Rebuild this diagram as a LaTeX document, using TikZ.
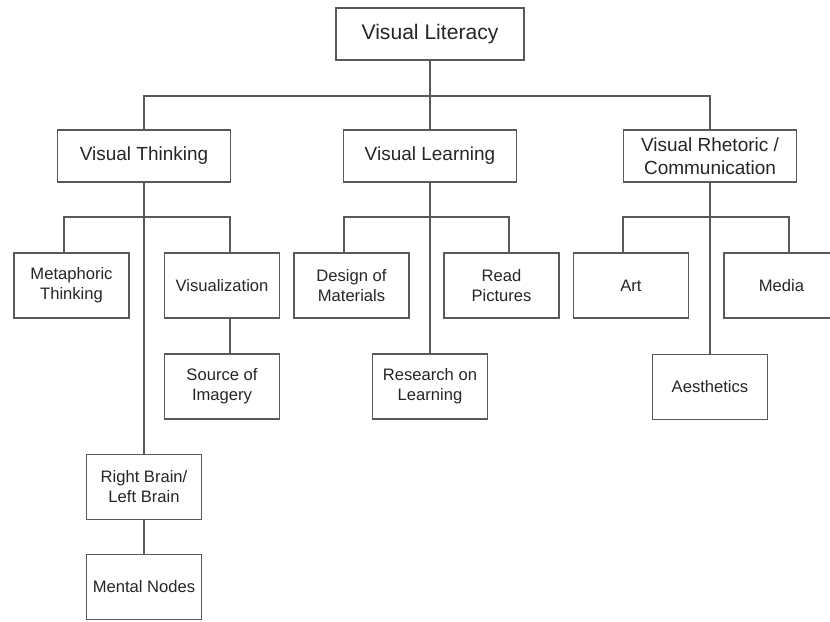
\documentclass[tikz,border=0pt]{standalone}
\usepackage{fontspec}
\setmainfont{Liberation Sans}
\usepackage{tikz}
\usetikzlibrary{positioning}

\begin{document}
\begin{tikzpicture}[x=0.025cm, y=-0.025cm]
    % Style for nodes
    \tikzset{
        rootnode/.style={rectangle, draw=black!65, line width=1.1pt, fill=white, minimum width=4.7cm, minimum height=1.3cm, inner sep=0pt, align=center, text=black!85, font=\fontsize{15}{18}\selectfont},
        mainnode/.style={rectangle, draw=black!65, line width=1.1pt, fill=white, minimum width=4.33cm, minimum height=1.3cm, inner sep=0pt, align=center, text=black!85, font=\fontsize{13.5}{16.5}\selectfont},
        subnode/.style={rectangle, draw=black!65, line width=1.1pt, fill=white, minimum width=2.875cm, minimum height=1.62cm, inner sep=0pt, align=center, text=black!85, font=\fontsize{11.8}{14.2}\selectfont},
        link/.style={draw=black!65, line width=1.1pt}
    }
    \clip (0,0) rectangle (830,621);

    % --- DRAW NODES ---
    \node[rootnode] (lit) at (430,34) {Visual Literacy};

    \node[mainnode] (think) at (144,156) {Visual Thinking};
    \node[mainnode] (learn) at (430,156) {Visual Learning};
    \node[mainnode] (rhet) at (710,156) {Visual Rhetoric /\\Communication};

    \node[subnode] (meta) at (71.5,285.5) {Metaphoric\\Thinking};
    \node[subnode] (viz) at (222,285.5) {Visualization};
    \node[subnode] (src) at (222,386.5) {Source of\\Imagery};
    \node[subnode] (rbrain) at (144,487) {Right Brain/\\Left Brain};
    \node[subnode] (mental) at (144,587) {Mental Nodes};

    \node[subnode] (design) at (351.5,285.5) {Design of\\Materials};
    \node[subnode] (read) at (501.5,285.5) {Read\\Pictures};
    \node[subnode] (research) at (430,386.5) {Research on\\Learning};

    \node[subnode] (art) at (631,285.5) {Art};
    \node[subnode] (media) at (781.5,285.5) {Media};
    \node[subnode] (aest) at (710,387) {Aesthetics};

    % --- BRANCH POINTS ---
    \coordinate (b0) at (430,96);
    \coordinate (tL) at (64,217);
    \coordinate (tR) at (230,217);
    \coordinate (lL) at (344,217);
    \coordinate (lR) at (509,217);
    \coordinate (rL) at (623,217);
    \coordinate (rR) at (789,217);

    % --- TOP LEVEL CONNECTIONS ---
    \draw[link] (lit.south) -- (b0);
    \draw[link] (think.north) |- (b0) -| (rhet.north);
    \draw[link] (learn.north) -- (b0);

    % --- VISUAL THINKING ---
    \draw[link] (think.south) -- (rbrain.north);
    \draw[link] (meta.north -| tL) |- (tR) -- (viz.north -| tR);
    \draw[link] (viz.south -| tR) -- (src.north -| tR);
    \draw[link] (rbrain.south) -- (mental.north);

    % --- VISUAL LEARNING ---
    \draw[link] (learn.south) -- (research.north);
    \draw[link] (design.north -| lL) |- (lR) -- (read.north -| lR);

    % --- VISUAL RHETORIC ---
    \draw[link] (rhet.south) -- (aest.north);
    \draw[link] (art.north -| rL) |- (rR) -- (media.north -| rR);
\end{tikzpicture}
\end{document}
